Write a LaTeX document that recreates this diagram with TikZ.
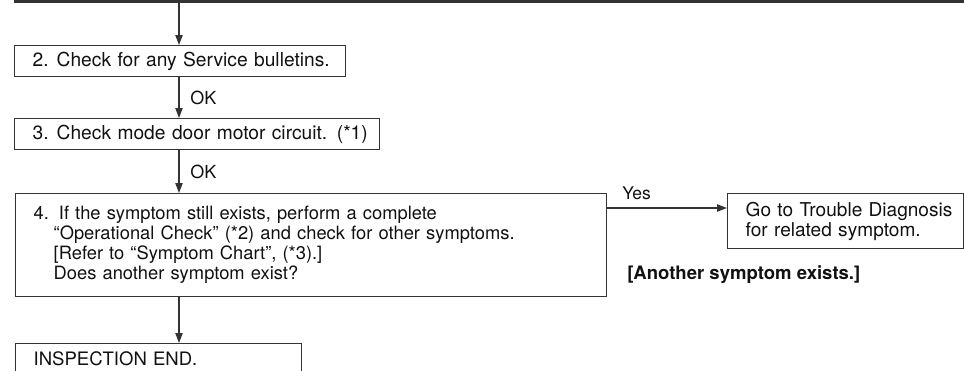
\documentclass[tikz,border=0pt]{standalone}
\usepackage{fontspec}
\setmainfont{TeX Gyre Heros}
\usetikzlibrary{arrows.meta,calc}
\definecolor{linec}{HTML}{333333}
\definecolor{textc}{HTML}{111111}
\begin{document}
\begin{tikzpicture}[x=0.75pt,y=-0.75pt,
  every node/.style={text=textc},
  box/.style={draw=linec, line width=1pt, rectangle, anchor=north west,
    inner xsep=13.5pt, inner ysep=0pt, align=left},
  big/.style={font=\fontsize{14.4}{15}\selectfont},
  mid/.style={font=\fontsize{13.75}{15}\selectfont},
  arr/.style={draw=linec, line width=0.9pt, -{Triangle[length=7.5pt,width=5.5pt]}},
  lbl/.style={anchor=west, inner sep=0pt}
]
\useasboundingbox (0,0) rectangle (964,371);
% top (cut-off) box
\node[draw=linec, line width=1.9pt, rectangle, anchor=south west, minimum width=711pt, minimum height=30pt, inner sep=0pt] (b1) at (14,3) {};
\node[box, big, text width=221.25pt, minimum height=23.25pt] (b2) at (14,45)
  {\mbox{2.\hspace{6pt}Check for any Service bulletins.}};
\node[box, big, text width=246.75pt, minimum height=23.25pt] (b3) at (14,118)
  {\mbox{3.\hspace{6pt}Check mode door motor circuit. (*1)}};
\node[box, mid, text width=416.25pt, minimum height=77.25pt] (b4) at (15,193)
  {\mbox{4.\hspace{7.5pt}If the symptom still exists, perform a complete}\\
   \mbox{\hspace{15pt}“Operational Check” (*2) and check for other symptoms.}\\
   \mbox{\hspace{15pt}[Refer to “Symptom Chart”, (*3).]}\\
   \mbox{\hspace{15pt}Does another symptom exist?}};
\node[box, font=\fontsize{14.3}{15}\selectfont, text width=150pt, minimum height=41.25pt] (go) at (727,193)
  {\mbox{Go to Trouble Diagnosis}\\\mbox{for related symptom.}};
\node[box, font=\fontsize{13.9}{15}\selectfont, text width=187.5pt, minimum height=23.25pt] (b5) at (15,343)
  {\mbox{INSPECTION END.}};
\coordinate (ax) at (179,0);
\draw[arr] (b1.south -| ax) -- (b2.north -| ax);
\draw[arr] (b2.south -| ax) -- (b3.north -| ax);
\draw[arr] (b3.south -| ax) -- (b4.north -| ax);
\draw[arr] (b4.south -| ax) -- (b5.north -| ax);
\draw[arr] ([yshift=-11.25pt]b4.north east) -- ([yshift=-11.25pt]go.north west);
\node[lbl, font=\fontsize{13.5}{15}\selectfont] (ok1) at (190,98) {OK};
\node[lbl, font=\fontsize{13.5}{15}\selectfont] (ok2) at (190,172) {OK};
\node[lbl, font=\fontsize{13.1}{15}\selectfont] (yes) at (622,193) {Yes};
\node[lbl, font=\fontsize{13.9}{15}\selectfont\bfseries] (another) at (627,275) {[Another symptom exists.]};
\end{tikzpicture}
\end{document}
